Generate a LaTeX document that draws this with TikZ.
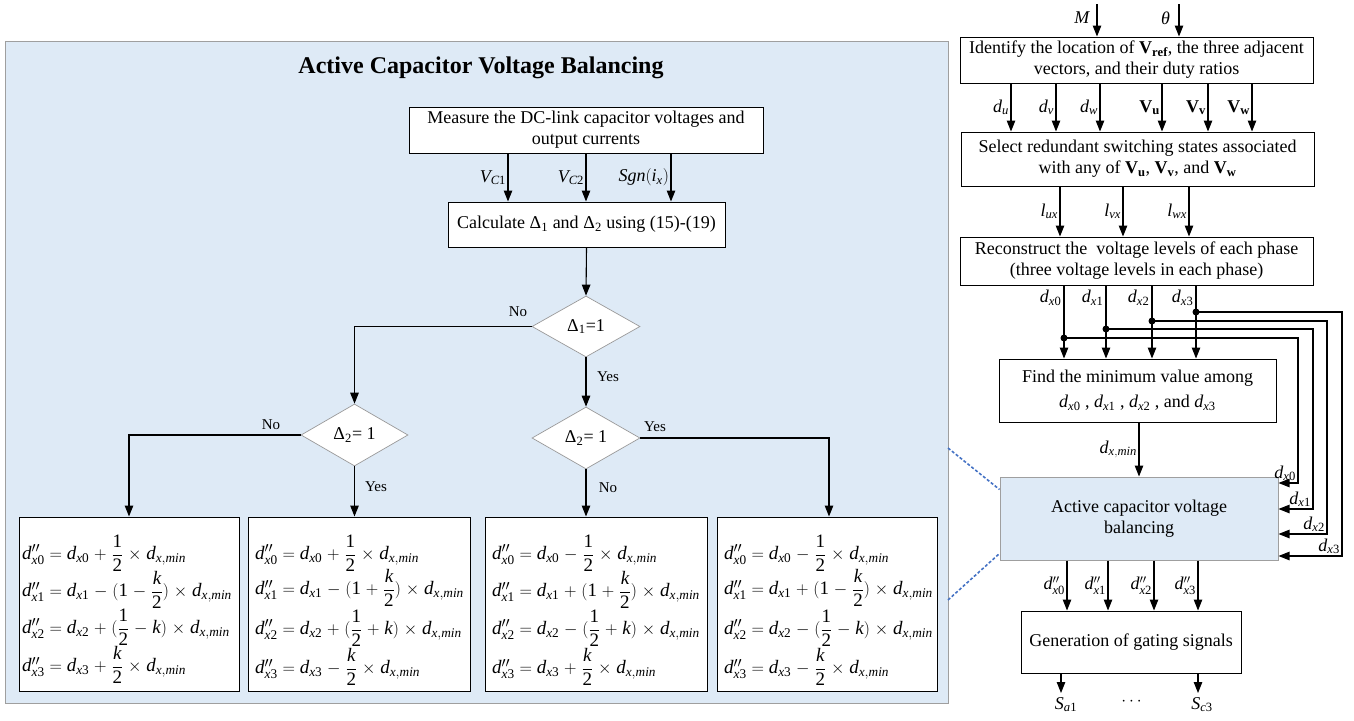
\documentclass[tikz,border=0pt]{standalone}
\usepackage{amsmath}
\usepackage{mathspec}
\setmainfont{Liberation Serif}
\setmathsfont(Digits,Latin,Greek){Liberation Serif}
\setmathrm{Liberation Serif}
\usetikzlibrary{arrows.meta,shapes.geometric,calc}
\definecolor{panelblue}{RGB}{222,234,246}
\definecolor{dashblue}{RGB}{68,114,196}
\medmuskip=5mu plus 2mu minus 4mu\relax
\begin{document}
\begin{tikzpicture}[x=1pt,y=-1pt,
  font=\fontsize{18}{21}\selectfont,
  box/.style={draw=black, line width=1pt, fill=white, rectangle, inner sep=0pt, align=center},
  bluebox/.style={draw=gray!75, line width=1pt, fill=panelblue, rectangle, inner sep=0pt, align=center},
  dia/.style={draw=gray!80, line width=0.7pt, fill=white, diamond, inner sep=0pt},
  arr/.style={line width=1.1pt, -{Triangle[length=11pt,width=8.5pt]}},
  lab/.style={inner sep=1.5pt, font=\fontsize{18}{21}\selectfont},
  yn/.style={inner sep=0pt, font=\fontsize{15}{17}\selectfont},
  dotmark/.style={circle, fill=black, inner sep=0pt, minimum size=7pt},
  frm/.style={anchor=west, inner sep=0pt, font=\fontsize{19}{22}\selectfont},
  dashln/.style={draw=dashblue, line width=1.6pt, dash pattern=on 3pt off 2pt},
]
\useasboundingbox (0,0) rectangle (1354,720);

% ---------------- left panel ----------------
\node (panel) [bluebox, minimum width=943, minimum height=662] at (476.5,372) {};
\node (title) [font=\fontsize{24}{28}\selectfont\bfseries, inner sep=0pt] at (481,68) {Active Capacitor Voltage Balancing};

\node (meas) [box, minimum width=354, minimum height=46] at (586,130) {Measure the DC-link capacitor voltages and\\output currents};
\node (calc) [box, minimum width=277, minimum height=45] at (586.5,224.5) {Calculate $\Delta_1$ and $\Delta_2$ using (15)-(19)};

\draw[arr] (508,0 |- meas.south) -- (508,0 |- calc.north) node[midway, left, lab] (lvc1) {$V_{C1}$};
\draw[arr] (586,0 |- meas.south) -- (586,0 |- calc.north) node[midway, left, lab] (lvc2) {$V_{C2}$};
\draw[arr] (671,0 |- meas.south) -- (671,0 |- calc.north) node[midway, left, lab] (lsgn) {$Sgn(i_x)$};

\node (d1) [dia, minimum width=108, minimum height=61] at (586,326.5) {$\Delta_1$=1};
\node (d2l) [dia, minimum width=107, minimum height=62] at (354.5,435) {$\Delta_2$= 1};
\node (d2r) [dia, minimum width=108, minimum height=62] at (586,438) {$\Delta_2$= 1};

\node (f1) [box, minimum width=220, minimum height=174] at (129,604) {};
\node (f2) [box, minimum width=222, minimum height=174] at (359,604) {};
\node (f3) [box, minimum width=222, minimum height=174] at (596,604) {};
\node (f4) [box, minimum width=220, minimum height=174] at (827,604) {};

\draw[arr] (calc.south) -- (d1.north);
\draw[arr] (d1.west) -| (d2l.north);
\draw[arr] (d1.south) -- (d2r.north);
\draw[arr] (d2l.west) -| (f1.north);
\draw[arr] (d2l.south) -- (d2l.south |- f2.north);
\draw[arr] (d2r.south) -- (d2r.south |- f3.north);
\draw[arr] (d2r.east) -| (829,0 |- f4.north);

\node (yn1) [yn] at (518,312) {No};
\node (yn2) [yn] at (608,377) {Yes};
\node (yn3) [yn] at (271,425) {No};
\node (yn4) [yn] at (376,487) {Yes};
\node (yn5) [yn] at (655,427) {Yes};
\node (yn6) [yn] at (608,488) {No};

% formulas
\node (f1a) [frm] at (22,553) {$d''_{x0} = d_{x0} + \dfrac{1}{2}\times d_{x,min}$};
\node (f1b) [frm] at (22,590) {$d''_{x1} = d_{x1} - (1-\dfrac{k}{2})\times d_{x,min}$};
\node (f1c) [frm] at (22,627) {$d''_{x2} = d_{x2} + (\dfrac{1}{2}-k)\times d_{x,min}$};
\node (f1d) [frm] at (22,665) {$d''_{x3} = d_{x3} + \dfrac{k}{2}\times d_{x,min}$};

\node (f2a) [frm] at (255,553) {$d''_{x0} = d_{x0} + \dfrac{1}{2}\times d_{x,min}$};
\node (f2b) [frm] at (255,588) {$d''_{x1} = d_{x1} - (1+\dfrac{k}{2})\times d_{x,min}$};
\node (f2c) [frm] at (255,628) {$d''_{x2} = d_{x2} + (\dfrac{1}{2}+k)\times d_{x,min}$};
\node (f2d) [frm] at (255,667) {$d''_{x3} = d_{x3} - \dfrac{k}{2}\times d_{x,min}$};

\node (f3a) [frm] at (492,553) {$d''_{x0} = d_{x0} - \dfrac{1}{2}\times d_{x,min}$};
\node (f3b) [frm] at (492,590) {$d''_{x1} = d_{x1} + (1+\dfrac{k}{2})\times d_{x,min}$};
\node (f3c) [frm] at (492,628) {$d''_{x2} = d_{x2} - (\dfrac{1}{2}+k)\times d_{x,min}$};
\node (f3d) [frm] at (492,667) {$d''_{x3} = d_{x3} + \dfrac{k}{2}\times d_{x,min}$};

\node (f4a) [frm] at (724,553) {$d''_{x0} = d_{x0} - \dfrac{1}{2}\times d_{x,min}$};
\node (f4b) [frm] at (724,588) {$d''_{x1} = d_{x1} + (1-\dfrac{k}{2})\times d_{x,min}$};
\node (f4c) [frm] at (724,628) {$d''_{x2} = d_{x2} - (\dfrac{1}{2}-k)\times d_{x,min}$};
\node (f4d) [frm] at (724,667) {$d''_{x3} = d_{x3} - \dfrac{k}{2}\times d_{x,min}$};

% ---------------- right column ----------------
\node (b1) [box, minimum width=353, minimum height=46] at (1136.5,60) {Identify the location of $\mathbf{V}_{\mathbf{ref}}$, the three adjacent\\vectors, and their duty ratios};
\node (b2) [box, minimum width=353, minimum height=54] at (1137.5,159) {Select redundant switching states associated\\with any of $\mathbf{V}_{\mathbf{u}}$, $\mathbf{V}_{\mathbf{v}}$, and $\mathbf{V}_{\mathbf{w}}$};
\node (b3) [box, minimum width=353, minimum height=48] at (1136.5,261) {Reconstruct the\ \ voltage levels of each phase\\(three voltage levels in each phase)};
\node (b4) [box, minimum width=277, minimum height=63] at (1137.5,390.5) {Find the minimum value among\\[4pt]$d_{x0}$ , $d_{x1}$ , $d_{x2}$ , and $d_{x3}$};
\node (b5) [bluebox, minimum width=278, minimum height=83] at (1139,518.5) {Active capacitor voltage\\balancing};
\node (b6) [box, minimum width=220, minimum height=62] at (1131,642) {Generation of gating signals};

% inputs
\coordinate (mtop) at (1097,4);
\coordinate (ttop) at (1179,4);
\draw[arr] (mtop) -- (mtop |- b1.north);
\draw[arr] (ttop) -- (ttop |- b1.north);
\node (lm) [lab, anchor=east] at (1091,18) {$M$};
\node (lt) [lab, anchor=east] at (1172,18) {$\theta$};

% b1 -> b2
\foreach \x/\t [count=\k] in {1011/{d_u},1056/{d_v},1100/{d_w},1162/{\mathbf{V}_{\mathbf{u}}},1208/{\mathbf{V}_{\mathbf{v}}},1252/{\mathbf{V}_{\mathbf{w}}}}{
  \draw[arr] (\x,0 |- b1.south) -- (\x,0 |- b2.north) node[midway, left, lab] (la\k) {$\t$};
}
% b2 -> b3
\foreach \x/\t [count=\k] in {1060/{l_{ux}},1123/{l_{vx}},1189/{l_{wx}}}{
  \draw[arr] (\x,0 |- b2.south) -- (\x,0 |- b3.north) node[midway, left, lab] (lb\k) {$\t$};
}
% b3 -> b4 and feedback to b5
\foreach \i/\x/\dy/\rx/\ay in {0/1064/338/1298/483, 1/1106/329/1313/509, 2/1152/321/1327/534, 3/1196/312/1342/556}{
  \draw[arr] (\x,0 |- b3.south) -- (\x,0 |- b4.north);
  \node (lc\i) [lab, anchor=east] at (\x-1,298) {$d_{x\i}$};
  \node (dot\i) [dotmark] at (\x,\dy) {};
  \coordinate (r\i) at (\rx,\ay);
  \draw[arr] (dot\i.center) -| (r\i) -- (r\i -| b5.east);
  \node (le\i) [lab, anchor=south east, inner sep=1pt] at (\rx-1,\ay-1) {$d_{x\i}$};
}
% b4 -> b5
\draw[arr] (b5.north |- b4.south) -- (b5.north) node[midway, left, lab] (lmin) {$d_{x,min}$};
% b5 -> b6
\foreach \i/\x in {0/1067,1/1108,2/1154,3/1198}{
  \draw[arr] (\x,0 |- b5.south) -- (\x,0 |- b6.north) node[midway, left, lab] (ld\i) {$d''_{x\i}$};
}
% outputs
\coordinate (sa) at (1061,693);
\coordinate (sc) at (1198,693);
\draw[arr] (sa |- b6.south) -- (sa);
\draw[arr] (sc |- b6.south) -- (sc);
\node (lsa) [lab, anchor=north, inner sep=0pt] at (1066,697) {$S_{a1}$};
\node (ldots) [lab, anchor=north, inner sep=0pt] at (1133,698) {$\cdots$};
\node (lsc) [lab, anchor=north, inner sep=0pt] at (1202,697) {$S_{c3}$};

% zoom lines
\coordinate (pu) at (948,448);
\coordinate (pl) at (948,600);
\draw[dashln] (pu) -- ($(b5.north west)+(0,13)$);
\draw[dashln] (pl) -- ($(b5.south west)+(0,-7)$);
\end{tikzpicture}
\end{document}
